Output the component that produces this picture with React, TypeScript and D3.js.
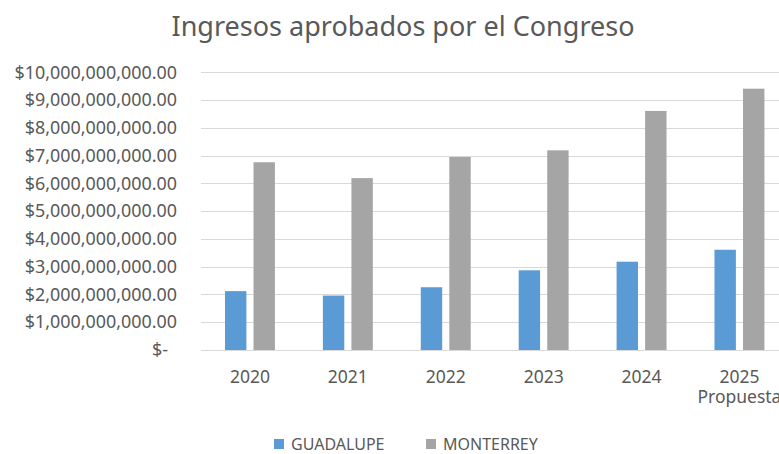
import React from "react";
import * as d3 from "d3";

const categories = ["2020", "2021", "2022", "2023", "2024", "2025"];
const categorySub = ["", "", "", "", "", "Propuesta"];
const seriesNames = ["GUADALUPE", "MONTERREY"];
const guadalupe = [2.12e9, 1.96e9, 2.26e9, 2.87e9, 3.18e9, 3.61e9];
const monterrey = [6.76e9, 6.19e9, 6.95e9, 7.19e9, 8.61e9, 9.41e9];
const yTicks = [0, 1e9, 2e9, 3e9, 4e9, 5e9, 6e9, 7e9, 8e9, 9e9, 10e9];
const title = "Ingresos aprobados por el Congreso";

const W = 779;
const H = 454;
const colors = ["#5B9BD5", "#A5A5A5"];
const textColor = "#595959";
const font = "'Noto Sans', 'Open Sans', sans-serif";

export default function App() {
  const plotLeft = 201;
  const step = 97.9;
  const x = d3
    .scaleBand<string>()
    .domain(categories)
    .range([plotLeft, plotLeft + step * categories.length])
    .paddingInner(0.49)
    .paddingOuter(0.245);
  const xSub = d3
    .scaleBand<string>()
    .domain(seriesNames)
    .range([0, x.bandwidth()])
    .paddingInner(0.25);
  const y = d3.scaleLinear().domain([0, 10e9]).range([350, 72.3]);
  const fmt = (v: number) => (v === 0 ? "$-" : "$" + d3.format(",.2f")(v));
  const series = [guadalupe, monterrey];

  return (
    <svg
      width={W}
      height={H}
      style={{ position: "absolute", left: 0, top: 0, background: "#fff" }}
      fontFamily={font}
    >
      <rect width={W} height={H} fill="#fff" />
      <text
        x={403}
        y={36}
        textAnchor="middle"
        fontSize={27}
        fill={textColor}
      >
        {title}
      </text>
      {yTicks.map((t) => (
        <g key={t}>
          <line
            x1={plotLeft}
            x2={W}
            y1={Math.round(y(t)) + 0.5}
            y2={Math.round(y(t)) + 0.5}
            stroke="#d9d9d9"
            strokeWidth={1}
          />
          <text
            x={t === 0 ? 168 : 177}
            y={y(t)}
            dy="0.35em"
            textAnchor="end"
            fontSize={17.9}
            fill={textColor}
          >
            {fmt(t)}
          </text>
        </g>
      ))}
      {categories.map((c, i) => {
        const cx = (x(c) as number) + x.bandwidth() / 2;
        return (
          <g key={c}>
            {series.map((s, j) => (
              <rect
                key={j}
                x={(x(c) as number) + (xSub(seriesNames[j]) as number)}
                y={y(s[i])}
                width={xSub.bandwidth()}
                height={y(0) - y(s[i])}
                fill={colors[j]}
              />
            ))}
            <text
              x={cx}
              y={383}
              textAnchor="middle"
              fontSize={17.5}
              fill={textColor}
            >
              <tspan x={cx}>{c}</tspan>
              {categorySub[i] && (
                <tspan x={cx} dy={20}>
                  {categorySub[i]}
                </tspan>
              )}
            </text>
          </g>
        );
      })}
      {seriesNames.map((n, j) => {
        const lx = j === 0 ? 274 : 426;
        return (
          <g key={n}>
            <rect x={lx} y={439} width={10} height={10} fill={colors[j]} />
            <text x={lx + 17} y={449.5} fontSize={16} fill={textColor}>
              {n}
            </text>
          </g>
        );
      })}
    </svg>
  );
}
